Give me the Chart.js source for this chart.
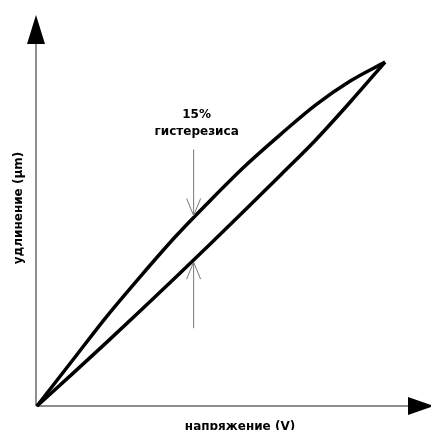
<!DOCTYPE html>
<html>
<head>
<meta charset="utf-8">
<script src="https://cdn.jsdelivr.net/npm/chart.js@4"></script>
<style>
  html, body { margin: 0; padding: 0; background: #fff; }
  #wrap { width: 431px; height: 430px; }
</style>
</head>
<body>
<div id="wrap"><canvas id="hystChart" width="431" height="430"></canvas></div>
<script>
// values (arbitrary units, 0..100)
const voltage = [0, 10, 20, 30, 40, 50, 60, 70, 80, 90, 100];
const upperY = [0, 13, 26, 38, 49.5, 60, 70, 79, 87.5, 94.5, 100];
const lowerY = [0, 9.2, 18.5, 28, 37.6, 47.3, 57.2, 67.2, 77.3, 88.4, 100];

// hysteresis marker: x position and the two branch values there
const markX = 45;
const markY = [54.8, 42.4];
const markLabel = ['15%', 'гистерезиса'];

const xTitle = 'напряжение (V)';
const yTitle = 'удлинение (µm)';

const toPoints = (xs, ys) => xs.map((x, i) => ({ x: x, y: ys[i] }));

const FONT = 'bold 12px "DejaVu Sans", sans-serif';

// axes with arrowheads, titles, and the hysteresis arrows
const decor = {
  id: 'decor',
  beforeDatasetsDraw(chart) {
    const { ctx, chartArea: a } = chart;
    const x0 = a.left - 1, y0 = a.bottom;
    ctx.save();
    ctx.strokeStyle = '#6a6a6a';
    ctx.lineWidth = 1.5;
    ctx.beginPath();
    ctx.moveTo(x0, y0);
    ctx.lineTo(x0, a.top + 25);
    ctx.moveTo(x0, y0);
    ctx.lineTo(a.right - 20, y0);
    ctx.stroke();

    ctx.fillStyle = '#000';
    ctx.beginPath();
    ctx.moveTo(x0, a.top);
    ctx.lineTo(x0 - 9, a.top + 29);
    ctx.lineTo(x0 + 9, a.top + 29);
    ctx.closePath();
    ctx.fill();
    ctx.beginPath();
    ctx.moveTo(a.right + 3, y0);
    ctx.lineTo(a.right - 23, y0 - 9);
    ctx.lineTo(a.right - 23, y0 + 9);
    ctx.closePath();
    ctx.fill();

    ctx.font = FONT;
    ctx.textAlign = 'center';
    ctx.textBaseline = 'alphabetic';
    ctx.fillText(xTitle, 240, y0 + 24);
    ctx.translate(22, 208);
    ctx.rotate(-Math.PI / 2);
    ctx.fillText(yTitle, 0, 0);
    ctx.restore();
  },
  afterDatasetsDraw(chart) {
    const { ctx, scales } = chart;
    const px = scales.x.getPixelForValue(markX);
    const yTop = scales.y.getPixelForValue(markY[0]) - 2;
    const yBot = scales.y.getPixelForValue(markY[1]) + 2;
    const tail = 66, hl = 17, hw = 7;
    ctx.save();
    ctx.strokeStyle = '#777';
    ctx.lineWidth = 1;
    ctx.beginPath();
    ctx.moveTo(px, yTop - tail);
    ctx.lineTo(px, yTop);
    ctx.moveTo(px - hw, yTop - hl);
    ctx.lineTo(px, yTop);
    ctx.lineTo(px + hw, yTop - hl);
    ctx.moveTo(px, yBot + tail);
    ctx.lineTo(px, yBot);
    ctx.moveTo(px - hw, yBot + hl);
    ctx.lineTo(px, yBot);
    ctx.lineTo(px + hw, yBot + hl);
    ctx.stroke();

    ctx.fillStyle = '#000';
    ctx.font = FONT;
    ctx.textAlign = 'center';
    ctx.fillText(markLabel[0], px + 3, yTop - tail - 32);
    ctx.fillText(markLabel[1], px + 3, yTop - tail - 15);
    ctx.restore();
  }
};

const ctx = document.getElementById('hystChart').getContext('2d');

new Chart(ctx, {
  type: 'scatter',
  data: {
    datasets: [
      { data: toPoints(voltage, upperY) },
      { data: toPoints(voltage, lowerY) }
    ]
  },
  options: {
    responsive: false,
    animation: false,
    layout: { padding: { left: 37, right: 0, top: 15, bottom: 24 } },
    elements: {
      line: { borderColor: '#000', borderWidth: 3.5, cubicInterpolationMode: 'monotone' },
      point: { radius: 0, hoverRadius: 0 }
    },
    datasets: { scatter: { showLine: true, clip: false } },
    plugins: { legend: { display: false }, tooltip: { enabled: false } },
    scales: {
      x: { type: 'linear', display: false, min: 0, max: 113.2 },
      y: { type: 'linear', display: false, min: 0, max: 113.7 }
    }
  },
  plugins: [decor]
});
</script>
</body>
</html>
